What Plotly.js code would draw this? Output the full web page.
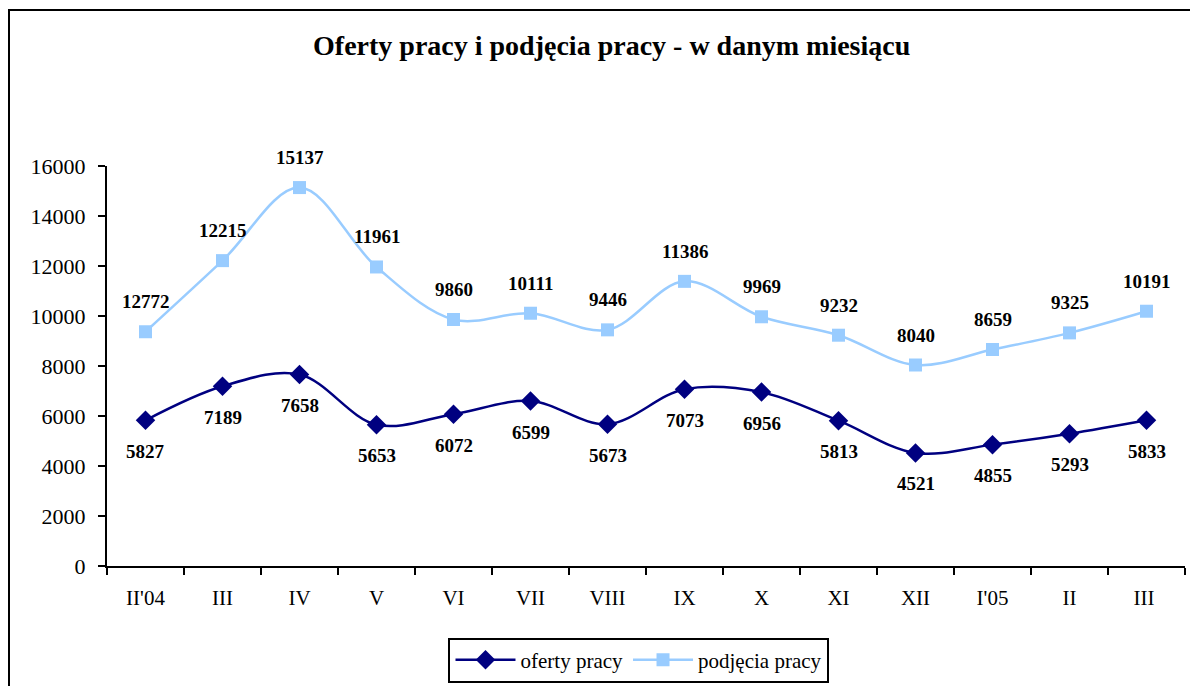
<!DOCTYPE html>
<html><head><meta charset="utf-8">
<script src="https://cdn.plot.ly/plotly-3.0.1.min.js"></script>
<style>
html,body{margin:0;padding:0;background:#fff;}
#chart{position:absolute;left:0;top:0;width:1190px;height:686px;}
#frame{position:absolute;left:8px;top:9px;width:1200px;height:700px;border-left:2px solid #000;border-top:2px solid #000;pointer-events:none;}
</style></head>
<body>
<div id="chart"></div>
<div id="frame"></div>
<script>
const months = ["II'04","III","IV","V","VI","VII","VIII","IX","X","XI","XII","I'05","II","III "];
const oferty = [5827,7189,7658,5653,6072,6599,5673,7073,6956,5813,4521,4855,5293,5833];
const ofertyLabels = ["5827","7189","7658","5653","6072","6599","5673","7073","6956","5813","4521","4855","5293","5833"];
const podjecia = [9370,12215,15137,11961,9860,10111,9446,11386,9969,9232,8040,8659,9325,10191];
const podjeciaLabels = ["12772","12215","15137","11961","9860","10111","9446","11386","9969","9232","8040","8659","9325","10191"];

const font = "Liberation Serif, Times New Roman, serif";

const traces = [
  {x: months, y: oferty, name: "oferty pracy", type: "scatter", mode: "lines+markers",
   line: {color: "#000080", width: 2.5, shape: "spline", smoothing: 1},
   marker: {symbol: "diamond", size: 15, color: "#000080"}},
  {x: months, y: podjecia, name: "podjęcia pracy", type: "scatter", mode: "lines+markers",
   line: {color: "#99CCFF", width: 2.5, shape: "spline", smoothing: 1},
   marker: {symbol: "square", size: 13, color: "#99CCFF"}}
];

const annotations = [];
months.forEach((m, i) => {
  annotations.push({x: m, y: oferty[i], text: "<b>" + ofertyLabels[i] + "</b>", showarrow: false,
    yshift: -31, font: {family: font, size: 19, color: "#000"}});
  annotations.push({x: m, y: podjecia[i], text: "<b>" + podjeciaLabels[i] + "</b>", showarrow: false,
    yshift: 30, font: {family: font, size: 19, color: "#000"}});
});

const layout = {
  width: 1190, height: 686,
  margin: {l: 107, r: 5, t: 166, b: 119},
  paper_bgcolor: "#fff", plot_bgcolor: "#fff",
  font: {family: font, color: "#000", size: 21},
  title: {text: "<b>Oferty pracy i podjęcia pracy - w danym miesiącu</b>",
    xref: "container", x: 0.514, xanchor: "center", yref: "container", y: 0.934, yanchor: "middle",
    font: {family: font, size: 28, color: "#000"}},
  xaxis: {type: "category", range: [-0.5, 13.5], showgrid: false, zeroline: false, showline: true, linecolor: "#000", linewidth: 2,
    ticks: "outside", ticklen: 7, tickwidth: 2, tickcolor: "#000", tickson: "boundaries",
    tickfont: {family: font, size: 21, color: "#000"}, ticklabelstandoff: 12, fixedrange: true},
  yaxis: {range: [0, 16000], dtick: 2000, tickformat: "d", showgrid: false, zeroline: false, showline: true, linecolor: "#000", linewidth: 2,
    ticks: "outside", ticklen: 7, tickwidth: 2, tickcolor: "#000",
    tickfont: {family: font, size: 22, color: "#000"}, ticklabelstandoff: 8, fixedrange: true},
  showlegend: true,
  legend: {orientation: "h", x: 0.4935, xanchor: "center", y: -0.232, yanchor: "middle",
    bordercolor: "#000", borderwidth: 2, bgcolor: "#fff",
    font: {family: font, size: 21, color: "#000"}, itemwidth: 60},
  annotations: annotations
};

Plotly.newPlot("chart", traces, layout, {displayModeBar: false, staticPlot: true});
</script>
</body></html>
